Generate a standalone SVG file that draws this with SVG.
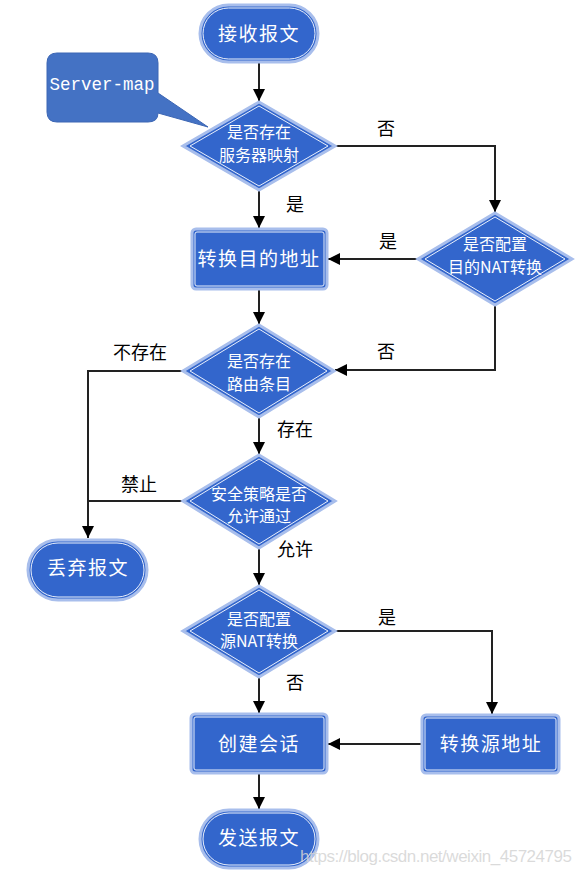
<svg xmlns="http://www.w3.org/2000/svg" width="582" height="874" viewBox="0 0 582 874">
<defs>
<marker id="ah" viewBox="0 0 10 10" refX="10" refY="5" markerUnits="userSpaceOnUse" markerWidth="12" markerHeight="12" orient="auto">
<path d="M0,0 L10,5 L0,10 z" fill="#000"/>
</marker>
</defs>
<style>
.sh{fill:#3366CC;stroke:#A8BEEC;stroke-width:3}
.in{fill:none;stroke:#E8EEFA;stroke-width:1}
.t{font-family:"Noto Sans CJK SC","Noto Sans",sans-serif;fill:#fff;text-anchor:middle}
.big{font-size:19px;letter-spacing:1.5px}
.dt{font-size:16px}
.lb{font-family:"Noto Sans CJK SC","Noto Sans",sans-serif;font-size:18px;fill:#000;text-anchor:middle}
.c{fill:none;stroke:#222;stroke-width:2}
</style>
<rect width="582" height="874" fill="#fff"/>
<g id="connectors">
<path class="c" d="M259,63 V101" marker-end="url(#ah)"/>
<path class="c" d="M259,190 V228" marker-end="url(#ah)"/>
<path class="c" d="M335,146 H495 V212" marker-end="url(#ah)"/>
<path class="c" d="M418,259 H328" marker-end="url(#ah)"/>
<path class="c" d="M259,289 V324" marker-end="url(#ah)"/>
<path class="c" d="M495,305 V370 H335" marker-end="url(#ah)"/>
<path class="c" d="M183,371 H88 V538" marker-end="url(#ah)"/>
<path class="c" d="M183,501 H88"/>
<path class="c" d="M259,417 V454" marker-end="url(#ah)"/>
<path class="c" d="M259,548 V585" marker-end="url(#ah)"/>
<path class="c" d="M335,631 H492 V714" marker-end="url(#ah)"/>
<path class="c" d="M259,677 V713" marker-end="url(#ah)"/>
<path class="c" d="M422,744 H328" marker-end="url(#ah)"/>
<path class="c" d="M259,773 V809" marker-end="url(#ah)"/>
<text class="lb" x="386" y="135">否</text>
<text class="lb" x="295" y="211">是</text>
<text class="lb" x="388" y="248">是</text>
<text class="lb" x="386" y="358">否</text>
<text class="lb" x="140" y="359">不存在</text>
<text class="lb" x="295" y="436">存在</text>
<text class="lb" x="139" y="491">禁止</text>
<text class="lb" x="295" y="556">允许</text>
<text class="lb" x="387" y="624">是</text>
<text class="lb" x="295" y="689">否</text>
</g>
<g id="start">
<rect class="sh" x="200" y="5" width="118" height="57" rx="28.5"/>
<rect class="in" x="203" y="8" width="112" height="51" rx="25.5"/>
<text class="t big" x="259" y="41">接收报文</text>
</g>
<g id="servermap">
<path d="M57,53 H148 Q158,53 158,63 V93 L208,127 L158,113 Q158,122 148,122 H57 Q47,122 47,112 V63 Q47,53 57,53 Z" fill="#4472C4" stroke="#3C66B4" stroke-width="1"/>
<text x="102" y="90" font-family="'Liberation Mono','DejaVu Sans Mono',monospace" font-size="17.5" fill="#fff" text-anchor="middle">Server-map</text>
</g>
<g id="d1">
<polygon class="sh" points="259,102 335,146 259,190 183,146"/>
<polygon class="in" points="259,106 328,146 259,186 190,146"/>
<text class="t dt" x="259" y="138">是否存在</text>
<text class="t dt" x="259" y="161">服务器映射</text>
</g>
<g id="r1">
<rect class="sh" x="192" y="229" width="135" height="60" rx="4"/>
<rect class="in" x="195" y="232" width="129" height="54" rx="2"/>
<text class="t big" x="259" y="266">转换目的地址</text>
</g>
<g id="d2">
<polygon class="sh" points="495,213 572,259 495,305 418,259"/>
<polygon class="in" points="495,217 565,259 495,301 425,259"/>
<text class="t dt" x="495" y="250">是否配置</text>
<text class="t dt" x="495" y="273">目的NAT转换</text>
</g>
<g id="d3">
<polygon class="sh" points="259,325 334,371 259,417 183,371"/>
<polygon class="in" points="259,329 327,371 259,413 190,371"/>
<text class="t dt" x="259" y="367">是否存在</text>
<text class="t dt" x="259" y="390">路由条目</text>
</g>
<g id="d4">
<polygon class="sh" points="259,455 335,501 259,548 183,501"/>
<polygon class="in" points="259,459 328,501 259,544 190,501"/>
<text class="t dt" x="259" y="500">安全策略是否</text>
<text class="t dt" x="259" y="522">允许通过</text>
</g>
<g id="drop">
<rect class="sh" x="28" y="540" width="119" height="60" rx="30"/>
<rect class="in" x="31" y="543" width="113" height="54" rx="27"/>
<text class="t big" x="88" y="575">丢弃报文</text>
</g>
<g id="d5">
<polygon class="sh" points="259,586 335,631 259,677 183,631"/>
<polygon class="in" points="259,590 328,631 259,673 190,631"/>
<text class="t dt" x="259" y="625">是否配置</text>
<text class="t dt" x="259" y="647">源NAT转换</text>
</g>
<g id="r2">
<rect class="sh" x="191" y="714" width="136" height="59" rx="4"/>
<rect class="in" x="194" y="717" width="130" height="53" rx="2"/>
<text class="t big" x="259" y="751">创建会话</text>
</g>
<g id="r3">
<rect class="sh" x="422" y="715" width="137" height="58" rx="4"/>
<rect class="in" x="425" y="718" width="131" height="52" rx="2"/>
<text class="t big" x="491" y="751">转换源地址</text>
</g>
<g id="end">
<rect class="sh" x="200" y="810" width="118" height="58" rx="29"/>
<rect class="in" x="203" y="813" width="112" height="52" rx="26"/>
<text class="t big" x="259" y="845">发送报文</text>
</g>
<text x="300" y="862" font-family="'Liberation Sans',Arial,sans-serif" font-size="17" fill="#d4d4d4" fill-opacity="0.85" textLength="272">https://blog.csdn.net/weixin_45724795</text>
</svg>
